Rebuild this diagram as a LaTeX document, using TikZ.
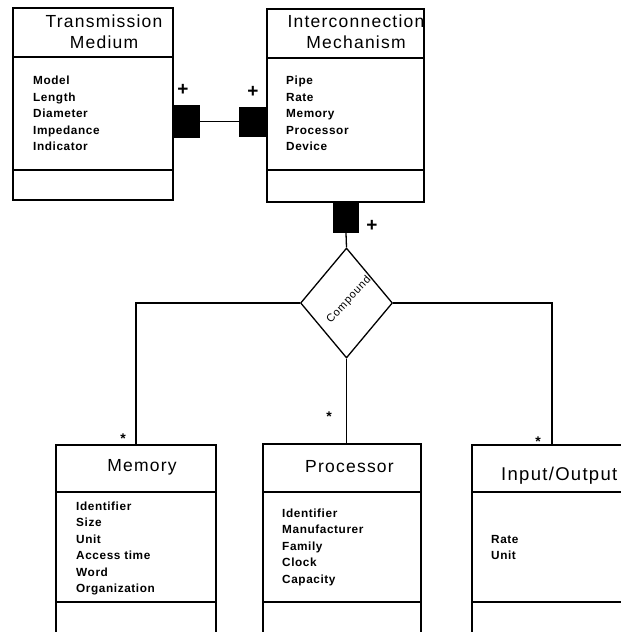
\documentclass[tikz,border=0pt]{standalone}
\usepackage{fontspec}
\setmainfont{Liberation Sans}
\newfontfamily\titlefont[LetterSpace=7]{Liberation Sans}
\newfontfamily\attrfont[LetterSpace=5]{Liberation Sans}
\usetikzlibrary{shapes.geometric, positioning}

\tikzset{
	classbox/.style={draw, line width=1.3pt, rectangle, inner sep=0pt},
	sep/.style={line width=1.3pt},
	classname/.style={font=\titlefont\fontsize{17.5}{21}\selectfont, align=center, inner sep=0pt},
	attrlist/.style={font=\attrfont\bfseries\fontsize{11.8}{16.5}\selectfont, align=left, anchor=north west, inner sep=0pt},
	joint/.style={fill=black, inner sep=0pt},
	link/.style={line width=1.3pt},
	mult/.style={font=\bfseries\fontsize{19}{19}\selectfont, inner sep=0pt},
	many/.style={font=\bfseries\fontsize{14}{14}\selectfont, inner sep=0pt}
}

\begin{document}
\begin{tikzpicture}[x=1pt, y=-1pt]
	\useasboundingbox (0,0) rectangle (621,632);
	\clip (0,0) rectangle (621,632);
	% Upper classes
	\node[classbox, minimum width=160pt, minimum height=192pt] (tm) at (93,104) {};
	\draw[sep] (tm.west |- 0,57) -- (tm.east |- 0,57);
	\draw[sep] (tm.west |- 0,170) -- (tm.east |- 0,170);
	\node[classname] (tmname) at (104,31.5) {Transmission\\Medium};
	\node[attrlist] (tmattr) at (33,76) {Model\\Length\\Diameter\\Impedance\\Indicator};

	\node[classbox, minimum width=157pt, minimum height=193pt] (im) at (345.5,105.5) {};
	\draw[sep] (im.west |- 0,58) -- (im.east |- 0,58);
	\draw[sep] (im.west |- 0,170) -- (im.east |- 0,170);
	\node[classname] (imname) at (356,32) {Interconnection\\Mechanism};
	\node[attrlist] (imattr) at (286,76) {Pipe\\Rate\\Memory\\Processor\\Device};

	% Aggregation joints
	\node[joint, minimum width=27pt, minimum height=33pt] (jtm) at (186.5,121.5) {};
	\node[joint, minimum width=28pt, minimum height=30pt] (jim) at (253,121.5) {};
	\node[joint, minimum width=26pt, minimum height=31pt] (jcmp) at (346,217.5) {};
	\draw[link] (jtm.east) -- (jim.west);
	\node[mult] (ptm) at (183,90) {+};
	\node[mult] (pim) at (253,92) {+};
	\node[mult] (pcmp) at (372,226) {+};

	% Compound
	\node[diamond, draw, line width=1.3pt, minimum width=92pt, minimum height=110pt, inner sep=0pt] (cmp) at (346.5,303) {};
	\node[font=\titlefont\fontsize{11}{11}\selectfont, rotate=47, inner sep=0pt] (cmplabel) at (349,300) {Compound};
	\draw[link] (jcmp.south) -- (cmp.north);

	% Lower classes
	\node[classbox, minimum width=160pt, minimum height=200pt] (mem) at (136,545) {};
	\draw[sep] (mem.west |- 0,492) -- (mem.east |- 0,492);
	\draw[sep] (mem.west |- 0,602) -- (mem.east |- 0,602);
	\node[classname] (memname) at (142,467) {Memory};
	\node[attrlist] (memattr) at (76,501.5) {Identifier\\Size\\Unit\\Access time\\Word\\Organization};

	\node[classbox, minimum width=158pt, minimum height=200pt] (proc) at (342,544) {};
	\draw[sep] (proc.west |- 0,492) -- (proc.east |- 0,492);
	\draw[sep] (proc.west |- 0,602) -- (proc.east |- 0,602);
	\node[classname] (procname) at (349.5,467) {Processor};
	\node[attrlist] (procattr) at (282,508.5) {Identifier\\Manufacturer\\Family\\Clock\\Capacity};

	\node[classbox, minimum width=160pt, minimum height=200pt] (io) at (552,545) {};
	\draw[sep] (io.west |- 0,492) -- (io.east |- 0,492);
	\draw[sep] (io.west |- 0,602) -- (io.east |- 0,602);
	\node[classname, anchor=west, font=\titlefont\fontsize{18.5}{21}\selectfont] (ioname) at (501,476) {Input/Output};
	\node[attrlist] (ioattr) at (491,535) {Rate\\Unit};

	% Connectors to parts
	\draw[link] (cmp.west) -| (mem.north);
	\draw[link] (cmp.south) -- (cmp.south |- proc.north);
	\draw[link] (cmp.east) -| (io.north);
	\node[many] (smem) at (123,439) {*};
	\node[many] (sproc) at (329,417) {*};
	\node[many] (sio) at (538,442) {*};
\end{tikzpicture}
\end{document}
